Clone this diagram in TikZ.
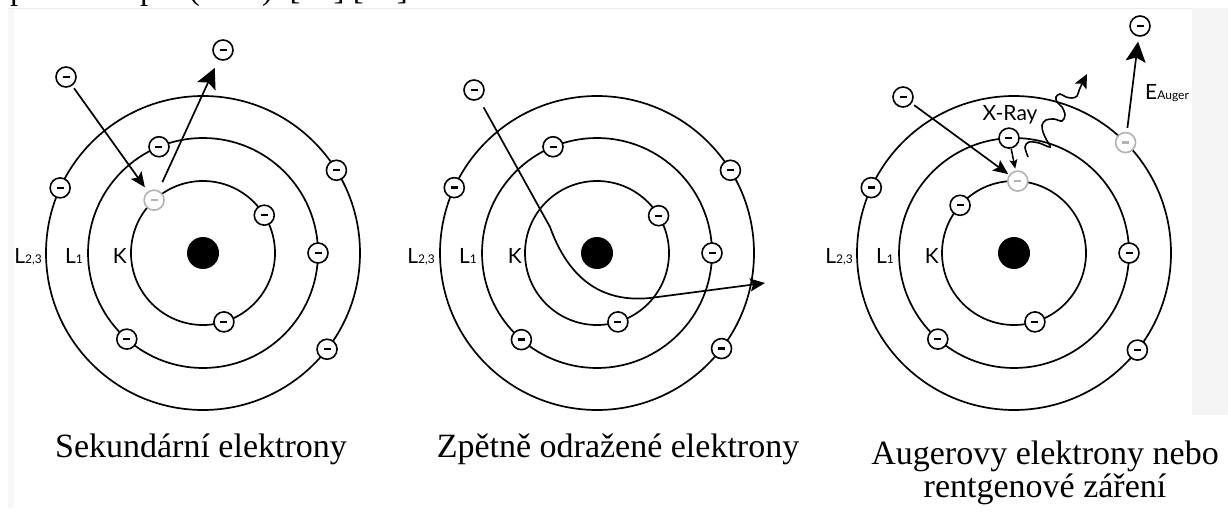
\documentclass[tikz,border=0pt]{standalone}
\usepackage{fontspec}
\setmainfont{Liberation Serif}
\newfontfamily\shellfont{Lato}
\usetikzlibrary{arrows.meta, positioning}
\tikzstyle{orbit}=[line width=1.7pt]
\tikzstyle{electron}=[draw,circle,fill=white,line width=1.6pt,minimum size=20pt,inner sep=0pt]
\tikzstyle{hole}=[electron,draw=black!30,text=black!30]
\tikzstyle{nucleus}=[circle,fill=black,minimum size=32pt,inner sep=0pt]
\tikzstyle{shell}=[font=\shellfont\fontsize{21}{21}\selectfont,anchor=base east,inner sep=0pt]
\tikzstyle{track}=[line width=1.7pt,-{Stealth[length=15pt,width=13pt,inset=3pt]}]
\tikzstyle{jet}=[line width=1.7pt,-{Stealth[length=20pt,width=20pt,inset=4pt]}]
\tikzstyle{caption}=[font=\fontsize{34}{33}\selectfont,inner sep=0pt]
\newcommand{\el}{\rule{7pt}{2.4pt}}
\newcommand{\shsub}[1]{{\fontsize{12}{12}\selectfont #1}}

\begin{document}
\begin{tikzpicture}[x=1pt,y=1pt]
\useasboundingbox (0,0) rectangle (1228,515);
\fill[black!4] (1192,100) rectangle (1228,507);
\fill[black!3] (8,7) rectangle (14,507);
\draw[black!8,line width=0.8pt] (8,507) -- (1192,507);
\node[caption,font=\fontsize{33}{33}\selectfont,anchor=base west] (prev) at (-3,515) {spektroskopie (EDS). [20] [21]};

% secondary electrons
\begin{scope}[shift={(203,262)}]
  \draw[orbit] (0,0) circle[radius=72];
  \draw[orbit] (0,0) circle[radius=115];
  \draw[orbit] (0,0) circle[radius=157];
  \node[nucleus] (sn) at (0,0) {};
  \node[hole] (sk0) at (132.8:72) {\el};
  \node[electron] (sk1) at (31.7:72) {\el};
  \node[electron] (sk2) at (286.9:72) {\el};
  \node[electron] (sl1) at (112.5:115) {\el};
  \node[electron] (sl2) at (0:115) {\el};
  \node[electron] (sl3) at (228.5:115) {\el};
  \node[electron] (sm1) at (155.5:157) {\el};
  \node[electron] (sm2) at (31.8:157) {\el};
  \node[electron] (sm3) at (322.2:157) {\el};
  \node[electron] (sin) at (-137,176) {\el};
  \node[electron] (sout) at (20,203) {\el};
  \node[shell] at (-161,-10) {L\shsub{2,3}};
  \node[shell] at (-120,-10) {L\shsub{1}};
  \node[shell] at (-76,-10) {K};
  \draw[track,shorten <=3pt,shorten >=5pt] (sin) -- (sk0);
  \draw[jet,shorten <=9pt,shorten >=9pt] (sk0) -- (sout);
\end{scope}

% backscattered electrons
\begin{scope}[shift={(597,262)}]
  \draw[orbit] (0,0) circle[radius=72];
  \draw[orbit] (0,0) circle[radius=115];
  \draw[orbit] (0,0) circle[radius=157];
  \node[nucleus] (bn) at (0,0) {};
  \node[electron] (bk1) at (31.2:72) {\el};
  \node[electron] (bk2) at (286.9:72) {\el};
  \node[electron] (bl1) at (112.5:115) {\el};
  \node[electron] (bl2) at (0:115) {\el};
  \node[electron] (bl3) at (228.9:115) {\el};
  \node[electron] (bm1) at (155.4:157) {\el};
  \node[electron] (bm2) at (31.8:157) {\el};
  \node[electron] (bm3) at (322.5:157) {\el};
  \node[electron] (bin) at (-123,163) {\el};
  \coordinate (bout) at (168,-30);
  \node[shell] at (-162,-10) {L\shsub{2,3}};
  \node[shell] at (-120,-10) {L\shsub{1}};
  \node[shell] at (-75,-10) {K};
  \draw[track,shorten <=9pt] (bin) -- (-47,26)
    .. controls (-29,-24) and (3,-50) .. (53,-45) -- (bout);
\end{scope}

% Auger electrons and x-rays
\begin{scope}[shift={(1014,262)}]
  \draw[orbit] (0,0) circle[radius=72];
  \draw[orbit] (0,0) circle[radius=115];
  \draw[orbit] (0,0) circle[radius=157];
  \node[nucleus] (an) at (0,0) {};
  \node[hole] (ak0) at (87:72) {\el};
  \node[electron] (ak1) at (138.5:72) {\el};
  \node[electron] (ak2) at (286.9:72) {\el};
  \node[electron] (al1) at (92.5:115) {\el};
  \node[electron] (al2) at (0:115) {\el};
  \node[electron] (al3) at (228.5:115) {\el};
  \node[electron] (am1) at (155.4:157) {\el};
  \node[hole] (am0) at (44.7:157) {\el};
  \node[electron] (am3) at (321.8:157) {\el};
  \node[electron] (ain) at (-111,156) {\el};
  \node[electron] (aout) at (126,227) {\el};
  \node[shell] at (-161,-10) {L\shsub{2,3}};
  \node[shell] at (-120,-10) {L\shsub{1}};
  \node[shell] at (-75,-10) {K};
  \node[font=\shellfont\fontsize{21}{21}\selectfont] (xray) at (-4,138) {X-Ray};
  \node[font=\shellfont\fontsize{21}{21}\selectfont,anchor=base west,inner sep=0pt] (eaug) at (131,153) {E\shsub{Auger}};
  \draw[track,shorten <=3pt,shorten >=1pt] (ain) -- (ak0);
  \draw[line width=1.5pt,-{Stealth[length=9pt,width=8pt,inset=2pt]},shorten >=2pt] (al1) -- (ak0);
  \draw[jet,shorten <=4pt,shorten >=5pt] (am0) -- (aout);
  \draw[line width=1.6pt,-{Stealth[length=14pt,width=13pt,inset=3pt]}]
    plot[smooth,tension=0.55] coordinates {(14,96) (11,106) (15,111) (25,110) (36,106)
      (32,114) (29,121) (28,128) (32,133) (40,134) (48,132) (51,138) (48,146) (43,151)
      (42,156) (46,159) (52,156) (58,155) (63,157) (66,165) (73,179)};
\end{scope}

\node[caption,anchor=base] (cs) at (201,58) {Sekundární elektrony};
\node[caption,anchor=base] (cb) at (618,58) {Zpětně odražené elektrony};
\node[caption,anchor=base,align=center] (ca) at (1045,18) {Augerovy elektrony nebo\\rentgenové záření};
\end{tikzpicture}
\end{document}
